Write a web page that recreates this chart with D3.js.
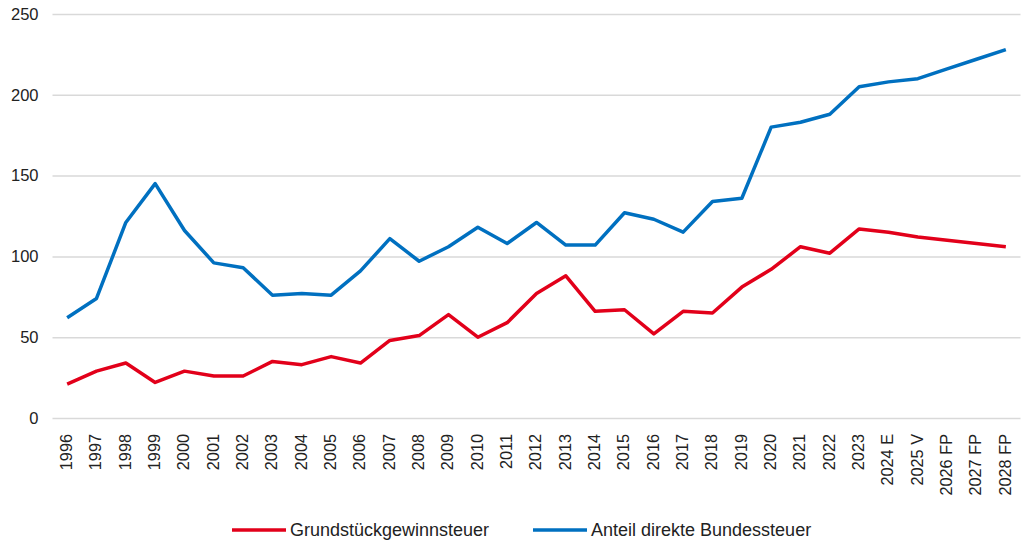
<!DOCTYPE html>
<html>
<head>
<meta charset="utf-8">
<script src="https://cdn.jsdelivr.net/npm/d3@7"></script>
<style>
  body { margin: 0; background: #fff; }
  svg text { font-family: "Liberation Sans", Arial, sans-serif; fill: #222; }
</style>
</head>
<body>
<div class="chart"></div>
<script>
// categories on the x axis
const years = ["1996","1997","1998","1999","2000","2001","2002","2003","2004","2005",
  "2006","2007","2008","2009","2010","2011","2012","2013","2014","2015","2016","2017",
  "2018","2019","2020","2021","2022","2023","2024 E","2025 V","2026 FP","2027 FP","2028 FP"];

const grundstueck = [21,29,34,22,29,26,26,35,33,38,34,48,51,64,50,59,77,88,66,67,52,66,
  65,81,92,106,102,117,115,112,110,108,106];

const bundessteuer = [62,74,121,145,116,96,93,76,77,76,91,111,97,106,118,108,121,107,107,127,123,115,
  134,136,180,183,188,205,208,210,216,222,228];

const yTicks = [0,50,100,150,200,250];

const series = [
  {name: "Grundstückgewinnsteuer", values: grundstueck, color: "#e2001a"},
  {name: "Anteil direkte Bundessteuer", values: bundessteuer, color: "#0070c0"}
];

const width = 1022, height = 540;
const margin = {top:14, left:52.5, right:1.5, bottom:122};

const svg = d3.select('.chart').append('svg')
    .attr('width', width)
    .attr('height', height);

const xScale = d3.scaleBand()
    .domain(years)
    .range([margin.left, width - margin.right]);

const yScale = d3.scaleLinear()
    .domain([0, 250])
    .range([height - margin.bottom, margin.top]);

// gridlines + y labels
const yAxis = d3.axisLeft(yScale)
    .tickValues(yTicks)
    .tickSize(-(width - margin.right - margin.left))
    .tickPadding(14);

svg.append('g')
    .attr('class', 'axis y-axis')
    .attr('transform', `translate(${margin.left},0)`)
    .call(yAxis)
    .call(g => g.select('.domain').remove())
    .call(g => g.selectAll('.tick line').attr('stroke', '#d9d9d9').attr('stroke-width', 1.5))
    .call(g => g.selectAll('.tick text').attr('font-size', 16.5).style('fill', '#222'));

// x labels, rotated
const xAxis = d3.axisBottom(xScale).tickSize(0).tickPadding(0);

svg.append('g')
    .attr('class', 'axis x-axis')
    .attr('transform', `translate(0, ${height - margin.bottom})`)
    .call(xAxis)
    .call(g => g.select('.domain').remove())
    .call(g => g.selectAll('.tick text')
        .attr('font-size', 16.3)
        .style('fill', '#222')
        .attr('text-anchor', 'end')
        .attr('dy', '0.35em')
        .attr('transform', 'translate(-1,16) rotate(-90)'));

// lines
const line = d3.line()
    .x((d, i) => xScale(years[i]) + xScale.bandwidth() / 2)
    .y(d => yScale(d));

svg.selectAll('.series')
    .data(series)
    .enter()
    .append('path')
    .attr('class', 'series')
    .attr('fill', 'none')
    .attr('stroke', d => d.color)
    .attr('stroke-width', 3.5)
    .attr('stroke-linejoin', 'round')
    .attr('d', d => line(d.values));

// legend
const legendX = [232, 533];
const legend = svg.selectAll('.legend')
    .data(series)
    .enter()
    .append('g')
    .attr('class', 'legend')
    .attr('transform', (d, i) => `translate(${legendX[i]}, 530)`);

legend.append('line')
    .attr('x1', 0).attr('x2', 54)
    .attr('stroke', d => d.color)
    .attr('stroke-width', 3.5);

legend.append('text')
    .attr('x', 58)
    .attr('dy', '0.35em')
    .attr('font-size', 18)
    .text(d => d.name);
</script>
</body>
</html>
